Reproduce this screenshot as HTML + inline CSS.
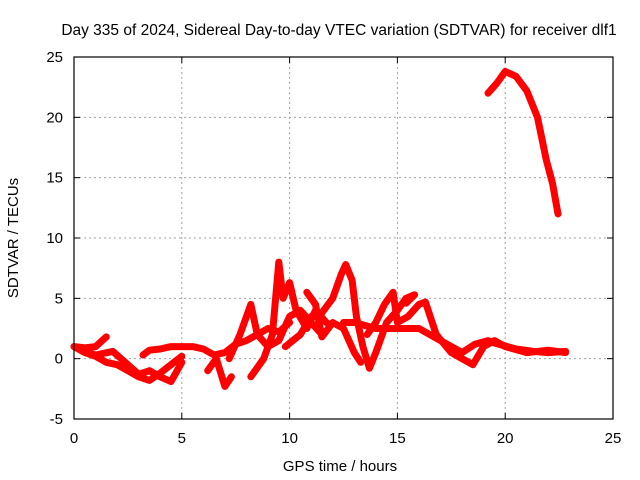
<!DOCTYPE html>
<html><head><meta charset="utf-8"><style>
body{margin:0;background:#fff;}
svg{display:block;font-family:"Liberation Sans",sans-serif;}
</style></head><body>
<svg id="chart" width="640" height="480">
<rect x="0" y="0" width="640" height="480" fill="#fff"/>
<text x="339" y="35" font-size="15.5" text-anchor="middle">Day 335 of 2024, Sidereal Day-to-day VTEC variation (SDTVAR) for receiver dlf1</text>
<g id="grid"></g>
<g id="series"></g>
<g id="axes"></g>
<text x="340" y="471" font-size="15" text-anchor="middle">GPS time / hours</text>
<text transform="translate(18,238) rotate(-90)" font-size="15" text-anchor="middle">SDTVAR / TECUs</text>
</svg>
<script>
const xTicks=[0,5,10,15,20,25];
const yTicks=[-5,0,5,10,15,20,25];
const trackA=[[0,1],[0.5,0.5],[1,0.2],[1.5,-0.3],[2,-0.5],[2.5,-1],[3,-1.5],[3.5,-1.8],[4,-1.2],[4.5,-0.5],[5,0.2]];
const trackB=[[0,1],[0.5,0.9],[1,1],[1.5,1.8]];
const trackC=[[0.4,0.6],[1,0.3],[1.8,0.6],[2.5,-0.5],[3,-1.3],[3.5,-1],[4,-1.5],[4.5,-1.9],[5,-0.3]];
const trackD=[[3.2,0.3],[3.5,0.7],[4,0.8],[4.5,1],[5,1],[5.5,1],[6,0.8],[6.5,0.3],[7,0.5],[7.5,1.2],[8,1.5],[8.5,2],[9,2.5],[9.5,2.2],[10,3]];
const trackE=[[6.2,-1],[6.6,0],[7,-2.3],[7.3,-1.5]];
const trackF=[[7.2,0],[7.7,2],[8,3.5],[8.2,4.5],[8.5,2],[9,1],[9.5,1.5],[10,3.5],[10.5,4],[11,3],[11.5,2]];
const trackS=[[8.2,-1.5],[8.8,0],[9.2,2],[9.5,8],[9.7,5],[10,6.3],[10.3,4],[10.8,2.5],[11.2,4],[11.7,3]];
const trackM=[[9.8,1],[10.5,2],[11,3.5],[11.5,3.8],[12,5],[12.4,7],[12.6,7.8],[12.9,6.5],[13.1,3.5],[13.4,1],[13.7,-0.8],[14,0.5],[14.5,3],[15,4],[15.4,5],[15.8,5.3],[15.4,4.6]];
const trackG=[[10.8,5.5],[11.2,4.5],[11.5,1.8],[12,3],[12.5,2.5],[13,0.5],[13.3,-0.3]];
const trackH=[[13.6,2],[14,3],[14.4,4.5],[14.8,5.5],[15,3],[15.5,3.5],[16,4.5],[16.3,4.7],[16.8,2],[17.5,0.5],[18,0],[18.5,-0.5],[19,1],[19.5,1.5],[20,1],[21,0.5],[22,0.7],[22.8,0.5]];
const trackI=[[12.5,3],[13,3],[14,2.5],[15,2.5],[16,2.5],[17,1.5],[17.5,1],[18,0.5],[18.6,1.2],[19.2,1.5],[19.5,1.3],[20.5,0.8],[21.3,0.6],[22,0.5],[22.8,0.6]];
const trackArc=[[19.2,22],[19.6,22.8],[20,23.8],[20.5,23.4],[21,22.2],[21.5,20],[21.9,16.5],[22.2,14.5],[22.45,12]];
const tracks=[trackA,trackB,trackC,trackD,trackE,trackF,trackS,trackM,trackG,trackH,trackI,trackArc];

const X0=74,X1=613,Y0=419,Y1=57;
const sx=v=>X0+(v-0)/(25-0)*(X1-X0);
const sy=v=>Y0-(v+5)/(30)*(Y0-Y1);
const NS='http://www.w3.org/2000/svg';
function mk(tag,attrs,parent){const e=document.createElementNS(NS,tag);for(const k in attrs)e.setAttribute(k,attrs[k]);parent.appendChild(e);return e;}
const grid=document.getElementById('grid'),axes=document.getElementById('axes'),ser=document.getElementById('series');
xTicks.forEach(t=>{
  const x=sx(t);
  if(t>0&&t<25){const l=mk('line',{x1:x,y1:Y0,x2:x,y2:Y1,stroke:'#a0a0a0','stroke-dasharray':'2,3'},grid);
  
  }
  mk('line',{x1:x,y1:Y0,x2:x,y2:Y0-6,stroke:'#000'},axes);
  mk('line',{x1:x,y1:Y1,x2:x,y2:Y1+6,stroke:'#000'},axes);
  const tx=mk('text',{x:x,y:Y0+24,'font-size':15,'text-anchor':'middle'},axes);tx.textContent=t;
  
  
});
yTicks.forEach(t=>{
  const y=sy(t);
  if(t>-5&&t<25){const l=mk('line',{x1:X0,y1:y,x2:X1,y2:y,stroke:'#a0a0a0','stroke-dasharray':'2,3'},grid);
  
  }
  mk('line',{x1:X0,y1:y,x2:X0+6,y2:y,stroke:'#000'},axes);
  mk('line',{x1:X1,y1:y,x2:X1-6,y2:y,stroke:'#000'},axes);
  const tx=mk('text',{x:X0-11,y:y+5,'font-size':15,'text-anchor':'end'},axes);tx.textContent=t;
  
  
});
const fr=mk('rect',{x:X0,y:Y1,width:X1-X0,height:Y0-Y1,fill:'none',stroke:'#000','stroke-width':1.2},axes);


tracks.forEach(tr=>{
  const pts=tr.map(p=>sx(p[0]).toFixed(1)+','+sy(p[1]).toFixed(1)).join(' ');
  const pl=mk('polyline',{points:pts,fill:'none',stroke:'#ff0000','stroke-width':7,'stroke-linejoin':'round','stroke-linecap':'round'},ser);
  
  
});
</script>
</body></html>
